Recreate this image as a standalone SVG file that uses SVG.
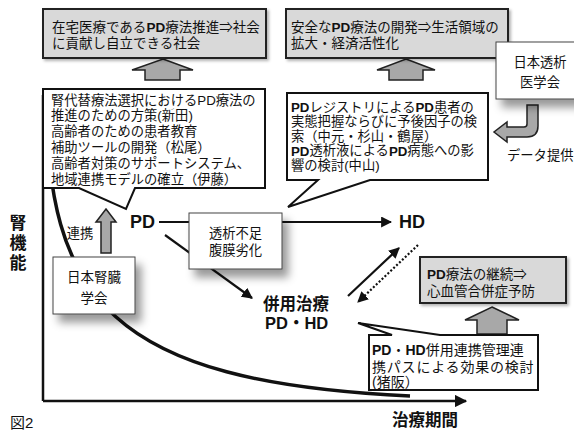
<svg xmlns="http://www.w3.org/2000/svg" width="574" height="432" viewBox="0 0 574 432">
<defs>
<style>
text{font-family:"Liberation Sans","Noto Sans CJK JP",sans-serif;fill:#111;dominant-baseline:central}
.t{font-size:13.3px}
.tb{font-size:13.5px}
.b{font-weight:bold}
.big{font-size:18px;font-weight:bold}
.mid{font-size:16.5px;font-weight:bold}
.gbox{fill:#d9d9d9;stroke:#222;stroke-width:2}
.wbox{fill:#fff;stroke:#444;stroke-width:1}
.call{fill:#fff;stroke:#111;stroke-width:2;stroke-linejoin:miter}
.blk{fill:#a8a8a8;stroke:#222;stroke-width:1.5;stroke-linejoin:miter}
.ln{fill:none;stroke:#111;stroke-width:2.2}
</style>
<marker id="ah" viewBox="0 0 10 10" refX="9" refY="5" markerWidth="5" markerHeight="5" orient="auto" markerUnits="strokeWidth">
<path d="M0,0 L10,5 L0,10 Z" fill="#111"/>
</marker>
<filter id="sh" x="-30%" y="-30%" width="170%" height="190%">
<feGaussianBlur in="SourceAlpha" stdDeviation="4"/>
<feOffset dx="6" dy="8" result="b"/>
<feFlood flood-color="#000" flood-opacity="0.4"/>
<feComposite in2="b" operator="in"/>
<feMerge><feMergeNode/><feMergeNode in="SourceGraphic"/></feMerge>
</filter>
<filter id="sh2" x="-10%" y="-10%" width="120%" height="130%">
<feGaussianBlur in="SourceAlpha" stdDeviation="1.5"/>
<feOffset dx="2" dy="2" result="b"/>
<feFlood flood-color="#000" flood-opacity="0.3"/>
<feComposite in2="b" operator="in"/>
<feMerge><feMergeNode/><feMergeNode in="SourceGraphic"/></feMerge>
</filter>
</defs>
<rect width="574" height="432" fill="#fff"/>

<g id="axes">
<path d="M43,95 V401" fill="none" stroke="#111" stroke-width="2.5"/>
<path d="M43,401 H466" fill="none" stroke="#111" stroke-width="2.5" marker-end="url(#ah)"/>
<path d="M46,90 C46,300 110,382 410,396" fill="none" stroke="#111" stroke-width="3.5"/>
<text x="18" y="223" style="font-size:17px;font-weight:bold" text-anchor="middle">腎</text>
<text x="18" y="243" style="font-size:17px;font-weight:bold" text-anchor="middle">機</text>
<text x="18" y="263" style="font-size:17px;font-weight:bold" text-anchor="middle">能</text>
<text x="425" y="420" class="mid" text-anchor="middle">治療期間</text>
<text x="10" y="422" style="font-size:15px">図2</text>
</g>

<g id="connectors">
<path class="ln" d="M159,222 H391" marker-end="url(#ah)"/>
<path class="ln" d="M165,235 L252,298" marker-end="url(#ah)"/>
<path class="ln" d="M348,296 L399,248" marker-end="url(#ah)"/>
<path class="ln" d="M418,245 L358,302" stroke-dasharray="2,2" marker-end="url(#ah)"/>
<path class="blk" d="M163,59 L193,70 L180,70 L180,80 L145,80 L145,70 L132,70 Z"/>
<path class="blk" d="M406,59 L435,70 L423,70 L423,80 L389,80 L389,70 L377,70 Z"/>
<path class="blk" d="M492,307 L519,320 L507,320 L507,334 L477,334 L477,320 L465,320 Z"/>
<path class="blk" d="M106,209 L116,222 L111,222 L111,253 L101,253 L101,222 L96,222 Z"/>
<path class="blk" d="M527,105 L538,105 L538,126 Q538,137 527,137 L507,137 L507,142 L494,132 L507,122 L507,127 L524,127 Q527,127 527,124 Z"/>
</g>

<g id="goal-home">
<rect class="gbox" x="43" y="9" width="223" height="49" filter="url(#sh2)"/>
<text class="tb" x="52" y="27">在宅医療である<tspan class="b">PD</tspan>療法推進⇒社会</text>
<text class="tb" x="52" y="43">に貢献し自立できる社会</text>
</g>

<g id="goal-safe">
<rect class="gbox" x="286" y="9" width="222" height="49" filter="url(#sh2)"/>
<text class="tb" x="291" y="27">安全な<tspan class="b">PD</tspan>療法の開発⇒生活領域の</text>
<text class="tb" x="291" y="43">拡大・経済活性化</text>
</g>

<g id="jsdt">
<rect class="wbox" x="496" y="42" width="90" height="57" filter="url(#sh)"/>
<text class="t" x="540" y="62" text-anchor="middle">日本透析</text>
<text class="t" x="540" y="82" text-anchor="middle">医学会</text>
<text class="t" x="507" y="155">データ提供</text>
</g>

<g id="callout-left">
<path class="call" d="M43,89 H265 V188 H135 L126,209 L79,188 H43 Z"/>
<text class="t" x="51" y="100">腎代替療法選択における<tspan style="font-family:'Liberation Sans',sans-serif">PD</tspan>療法の</text>
<text class="t" x="51" y="115.8">推進のための方策(新田)</text>
<text class="t" x="51" y="131.6">高齢者のための患者教育</text>
<text class="t" x="51" y="147.4">補助ツールの開発（松尾）</text>
<text class="t" x="51" y="163.2">高齢者対策のサポートシステム、</text>
<text class="t" x="51" y="179">地域連携モデルの確立（伊藤）</text>
</g>

<g id="callout-right">
<path class="call" d="M287,93 H488 V180 H370 L288,207 L318,180 H287 Z"/>
<text class="t" x="291" y="107"><tspan class="b">PD</tspan>レジストリによる<tspan class="b">PD</tspan>患者の</text>
<text class="t" x="291" y="121.5">実態把握ならびに予後因子の検</text>
<text class="t" x="291" y="136">索（中元・杉山・鶴屋）</text>
<text class="t" x="291" y="150.5"><tspan class="b">PD</tspan>透析液による<tspan class="b">PD</tspan>病態への影</text>
<text class="t" x="291" y="165">響の検討(中山)</text>
</g>

<g id="pd">
<text class="big" x="130" y="222">PD</text>
</g>

<g id="hd">
<text class="big" x="399" y="222">HD</text>
</g>

<g id="combined">
<text class="mid" x="263" y="304">併用治療</text>
<text class="mid" x="265" y="323">PD・HD</text>
</g>

<g id="insufficiency">
<rect class="wbox" x="189" y="213" width="93" height="56" filter="url(#sh)"/>
<text class="t" x="235.5" y="233" text-anchor="middle">透析不足</text>
<text class="t" x="235.5" y="250" text-anchor="middle">腹膜劣化</text>
</g>

<g id="jsn">
<rect class="wbox" x="53" y="257" width="82" height="57" filter="url(#sh)"/>
<text class="tb" x="94" y="277" text-anchor="middle">日本腎臓</text>
<text class="tb" x="94" y="298" text-anchor="middle">学会</text>
<text class="t" x="80" y="233" text-anchor="middle">連携</text>
</g>

<g id="goal-cv">
<rect class="gbox" x="420" y="257" width="146" height="46" stroke-width="1.5" filter="url(#sh2)"/>
<text class="tb" x="427" y="274"><tspan class="b">PD</tspan>療法の継続⇒</text>
<text class="tb" x="427" y="291">心血管合併症予防</text>
</g>

<g id="callout-bottom">
<path class="call" d="M369,335 H392 L358,323 L440,335 H538 V390 H369 Z"/>
<text x="372" y="350" style="font-size:14px"><tspan class="b">PD</tspan>・<tspan class="b">HD</tspan>併用連携管理連</text>
<text x="372" y="366.5" style="font-size:14px;letter-spacing:0.8px">携パスによる効果の検討</text>
<text x="372" y="382" style="font-size:14px">(猪阪）</text>
</g>
</svg>
